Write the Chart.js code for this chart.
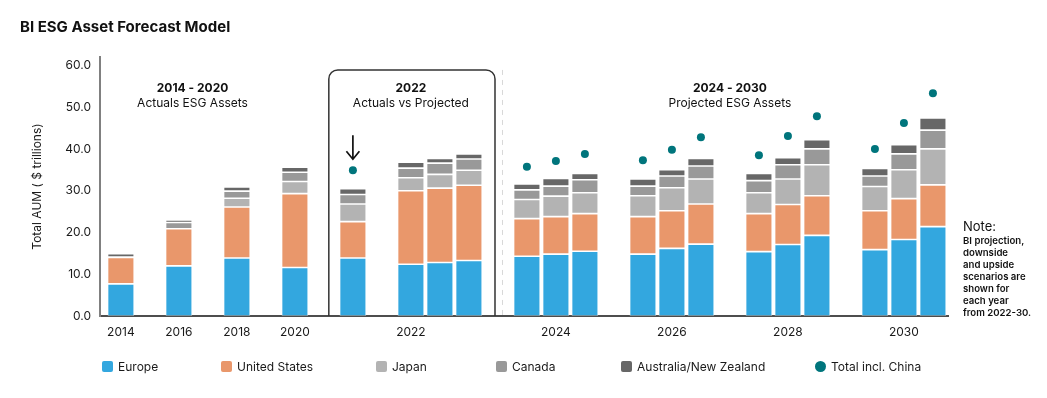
<!DOCTYPE html>
<html>
<head>
<meta charset="utf-8">
<script src="https://cdn.jsdelivr.net/npm/chart.js@4.4.1/dist/chart.umd.min.js"></script>
<style>
  html, body { margin: 0; padding: 0; background: #ffffff; }
  #wrap { position: relative; width: 1047px; height: 398px; font-family: Inter, "Noto Sans", sans-serif; color: #1a1a1a; }
  #c { position: absolute; left: 0; top: 0; }
  .lg { position: absolute; top: 358px; height: 17px; display: flex; align-items: center; font-size: 12px; white-space: nowrap; }
  .sw { width: 11px; height: 11px; border-radius: 2px; margin-right: 5px; flex: none; }
  .dot { border-radius: 50%; width: 11px; height: 11px; }
  #note { position: absolute; left: 963px; top: 219px; font-size: 9.6px; line-height: 12px; font-weight: 600; color: #111; }
  #note .h { font-size: 13px; line-height: 15px; font-weight: 400; margin-bottom: 1px; }
</style>
</head>
<body>
<div id="wrap">
  <canvas id="c" width="1047" height="398"></canvas>
  <div id="legend"></div>
  <div id="note"><div class="h">Note:</div>BI projection,<br>downside<br>and upside<br>scenarios are<br>shown for<br>each year<br>from 2022-30.</div>
</div>
<script>
// ---------------- DATA ----------------
const periods = ['2014','2016','2018','2020','2022','2022','2022','2022','2024','2024','2024','2026','2026','2026','2028','2028','2028','2030','2030','2030'];
const scenarios = ['Actual','Actual','Actual','Actual','Actual','Downside','BI projection','Upside','Downside','BI projection','Upside','Downside','BI projection','Upside','Downside','BI projection','Upside','Downside','BI projection','Upside'];
const europe =              [7.7, 12.0, 13.9, 11.6, 13.9, 12.4, 12.8, 13.3, 14.3, 14.8, 15.5, 14.8, 16.2, 17.2, 15.4, 17.1, 19.3, 15.9, 18.3, 21.4];
const unitedStates =        [6.3,  8.9, 12.2, 17.7,  8.7, 17.6, 17.8, 18.0,  9.0,  9.0,  9.0,  9.0,  9.0,  9.6,  9.1,  9.6,  9.5,  9.3,  9.8, 10.0];
const japan =               [0.0,  0.0,  2.1,  2.9,  4.2,  3.1,  3.3,  3.6,  4.6,  4.9,  5.0,  5.0,  5.5,  6.0,  5.0,  6.1,  7.4,  5.8,  6.9,  8.6];
const canada =              [0.1,  1.5,  1.7,  2.2,  2.3,  2.3,  2.7,  2.7,  2.3,  2.4,  3.1,  2.3,  2.8,  3.1,  2.9,  3.4,  3.8,  2.5,  3.8,  4.5];
const australiaNewZealand = [0.8,  0.6,  1.0,  1.2,  1.4,  1.4,  1.1,  1.2,  1.4,  1.8,  1.5,  1.7,  1.5,  1.8,  1.7,  1.7,  2.2,  1.8,  2.2,  2.9];
const totalInclChina =      [null, null, null, null, 34.9, null, null, null, 35.7, 37.1, 38.8, 37.3, 39.8, 42.8, 38.5, 43.1, 47.8, 40.0, 46.2, 53.3];
const seriesNames = ['Europe', 'United States', 'Japan', 'Canada', 'Australia/New Zealand', 'Total incl. China'];
const tickLabels = ['2014', '2016', '2018', '2020', '2022', '2024', '2026', '2028', '2030'];
const yTickValues = [0, 10, 20, 30, 40, 50, 60];

// ---------------- STYLE ----------------
const FONT = 'Inter, "Noto Sans", sans-serif';
const colors = ['#33a7df', '#e9976b', '#b3b3b3', '#999999', '#676767', '#00757c'];

// slot index for each bar: one empty slot between groups
const slots = [];
let s = 0;
periods.forEach((p, i) => {
  if (i > 0) {
    const newGroup = p !== periods[i - 1] || scenarios[i - 1] === 'Actual';
    s += newGroup ? 2 : 1;
  }
  slots.push(s);
});
const tickSlots = tickLabels.map(lbl => {
  const ss = slots.filter((v, i) => periods[i] === lbl);
  return (Math.min(...ss) + Math.max(...ss)) / 2;
});
const pts = arr => arr.map((v, i) => ({ x: slots[i], y: v }));

const barSeries = [europe, unitedStates, japan, canada, australiaNewZealand];
const datasets = barSeries.map((arr, k) => ({
  type: 'bar',
  label: seriesNames[k],
  data: pts(arr),
  backgroundColor: colors[k],
  borderColor: 'rgba(255,255,255,0.45)',
  borderWidth: 0.8,
  borderSkipped: false,
  categoryPercentage: 1.0,
  barPercentage: 0.92,
  stack: 'regions'
}));
datasets.push({
  type: 'line',
  label: seriesNames[5],
  data: pts(totalInclChina),
  showLine: false,
  pointRadius: 4,
  pointHoverRadius: 4,
  pointBorderWidth: 0,
  backgroundColor: colors[5],
  borderColor: colors[5],
  stack: 'total'
});

// ---------------- DECORATIONS ----------------
const sections = [
  { title: '2014 - 2020', sub: 'Actuals ESG Assets', at: 2.47 },
  { title: '2022', sub: 'Actuals vs Projected', at: 10 },
  { title: '2024 - 2030', sub: 'Projected ESG Assets', at: 21 }
];
const decor = {
  id: 'decor',
  afterDatasetsDraw(chart) {
    const ctx = chart.ctx, xs = chart.scales.x, ys = chart.scales.y, ca = chart.chartArea;
    ctx.save();
    // rounded box around 2022
    const l = xs.getPixelForValue(7.17), r = xs.getPixelForValue(12.9);
    const t = ys.getPixelForValue(58.9), b = ca.bottom, rad = 9;
    ctx.beginPath();
    ctx.moveTo(l, b);
    ctx.lineTo(l, t + rad);
    ctx.arcTo(l, t, l + rad, t, rad);
    ctx.lineTo(r - rad, t);
    ctx.arcTo(r, t, r, t + rad, rad);
    ctx.lineTo(r, b);
    ctx.lineWidth = 1.5;
    ctx.strokeStyle = '#333333';
    ctx.stroke();
    // dashed separator
    const dx = Math.round(xs.getPixelForValue(13.15)) + 0.5;
    ctx.beginPath();
    ctx.setLineDash([5, 5]);
    ctx.moveTo(dx, t);
    ctx.lineTo(dx, b);
    ctx.lineWidth = 1;
    ctx.strokeStyle = '#d8d8d8';
    ctx.stroke();
    ctx.setLineDash([]);
    // section headers
    ctx.textAlign = 'center';
    ctx.textBaseline = 'middle';
    ctx.fillStyle = '#111111';
    sections.forEach(sec => {
      const x = xs.getPixelForValue(sec.at);
      ctx.font = 'bold 12px ' + FONT;
      ctx.fillText(sec.title, x, ys.getPixelForValue(54.4));
      ctx.font = '12px ' + FONT;
      ctx.fillText(sec.sub, x, ys.getPixelForValue(50.8));
    });
    // arrow above the 2022 actual total
    const ai = scenarios.findIndex((sc, i) => periods[i] === '2022' && sc === 'Actual');
    const ax = xs.getPixelForValue(slots[ai]);
    const ay = ys.getPixelForValue(totalInclChina[ai]);
    const tip = ay - 11, tail = ay - 35;
    ctx.beginPath();
    ctx.moveTo(ax, tail);
    ctx.lineTo(ax, tip);
    ctx.moveTo(ax - 6.5, tip - 8);
    ctx.lineTo(ax, tip);
    ctx.lineTo(ax + 6.5, tip - 8);
    ctx.lineWidth = 1.7;
    ctx.strokeStyle = '#111111';
    ctx.stroke();
    ctx.restore();
  }
};

Chart.defaults.font.family = FONT;
Chart.defaults.color = '#1a1a1a';

const chart = new Chart(document.getElementById('c'), {
  data: { datasets },
  options: {
    responsive: false,
    animation: false,
    devicePixelRatio: 1,
    layout: { padding: { left: 20, right: 99, top: 0, bottom: 52 } },
    plugins: {
      legend: { display: false },
      tooltip: { enabled: false },
      title: {
        display: true,
        text: 'BI ESG Asset Forecast Model',
        align: 'start',
        color: '#111111',
        font: { family: FONT, size: 15, weight: 'bold' },
        padding: { top: 18, bottom: 21 }
      }
    },
    scales: {
      x: {
        type: 'linear',
        stacked: true,
        offset: false,
        min: -0.72,
        max: 28.52,
        grid: { display: false, drawTicks: false, offset: false },
        border: { display: true, color: '#4d4d4d', width: 2 },
        afterBuildTicks: sc => { sc.ticks = tickSlots.map(v => ({ value: v })); },
        afterFit: sc => { sc.height = 30; },
        ticks: {
          padding: 9,
          autoSkip: false,
          maxRotation: 0,
          color: '#1a1a1a',
          font: { family: FONT, size: 12 },
          callback: v => { const i = tickSlots.indexOf(v); return i >= 0 ? tickLabels[i] : ''; }
        }
      },
      y: {
        stacked: true,
        min: 0,
        max: 62,
        grid: { display: false, drawTicks: false },
        border: { display: true, color: '#808080', width: 2 },
        afterBuildTicks: sc => { sc.ticks = yTickValues.map(v => ({ value: v })); },
        afterFit: sc => { sc.width = 80; },
        ticks: {
          padding: 9,
          color: '#1a1a1a',
          font: { family: FONT, size: 12 },
          callback: v => Number(v).toFixed(1)
        },
        title: {
          display: true,
          text: 'Total AUM ( $ trillions)',
          color: '#1a1a1a',
          font: { family: FONT, size: 12 },
          padding: { top: 10, bottom: 0 }
        }
      }
    }
  },
  plugins: [decor]
});

// HTML legend built from the chart's datasets
const legendLeft = [102, 221, 376, 496, 621, 815];
const lgRoot = document.getElementById('legend');
chart.data.datasets.forEach((ds, i) => {
  const item = document.createElement('div');
  item.className = 'lg';
  item.style.left = legendLeft[i] + 'px';
  const sw = document.createElement('span');
  sw.className = ds.type === 'line' ? 'sw dot' : 'sw';
  sw.style.background = ds.backgroundColor;
  item.appendChild(sw);
  item.appendChild(document.createTextNode(ds.label));
  lgRoot.appendChild(item);
});
</script>
</body>
</html>
